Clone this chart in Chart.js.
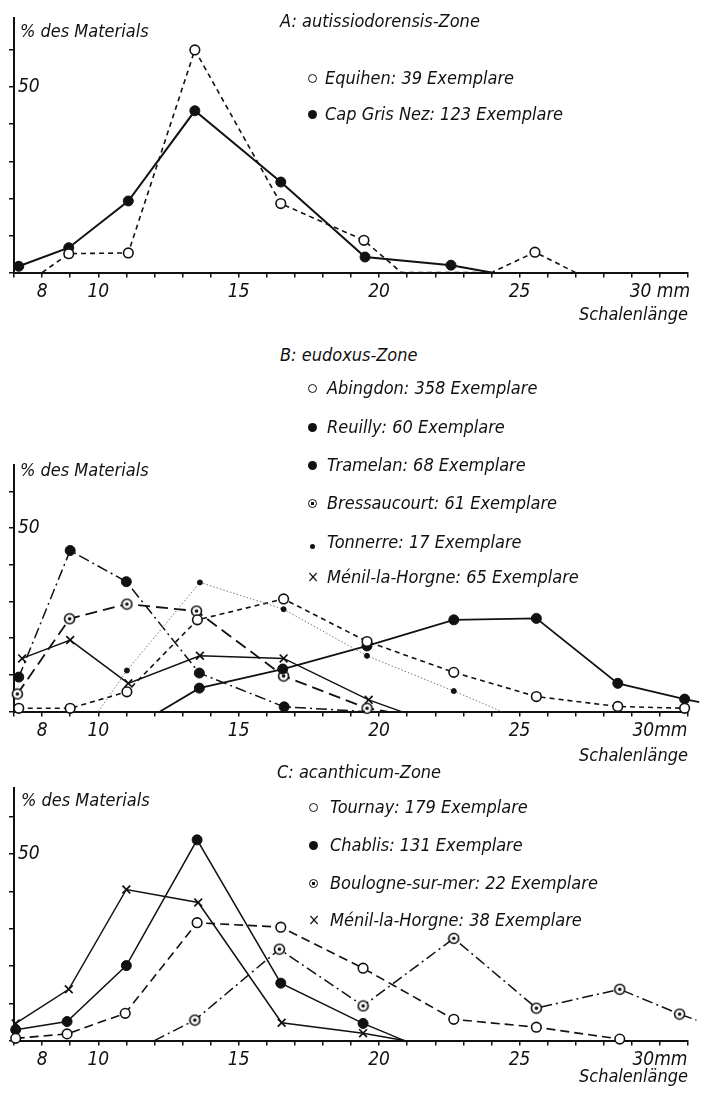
<!DOCTYPE html>
<html>
<head>
<meta charset="utf-8"/>
<script src="https://cdn.jsdelivr.net/npm/chart.js@4.4.1/dist/chart.umd.min.js"></script>
<style>
  body { margin:0; background:#fff; width:708px; height:1093px; overflow:hidden; position:relative;
         font-family:"DejaVu Sans Condensed","DejaVu Sans",sans-serif; font-style:italic; color:#111; }
  canvas { position:absolute; left:0; }
  .txt { position:absolute; font-size:18px; line-height:20px; white-space:nowrap; }
  .mk { position:absolute; box-sizing:border-box; border-radius:50%; }
  .open { width:9px; height:9px; border:1.5px solid #111; background:#fff; }
  .full { width:9px; height:9px; background:#111; }
  .ring { width:9px; height:9px; border:1.5px solid #111; background:radial-gradient(circle, #111 0 1.6px, #fff 2px); }
  .dot  { width:5px; height:5px; background:#111; }
  .cross { border-radius:0; font-size:16px; line-height:16px; font-style:normal; }
</style>
</head>
<body>
<canvas id="chartA" width="708" height="330" style="top:0px"></canvas>
<canvas id="chartB" width="708" height="330" style="top:440px"></canvas>
<canvas id="chartC" width="708" height="330" style="top:770px"></canvas>
<script>
// Schalenlänge (mm) und % des Materials

// A: autissiodorensis-Zone
var equihenX = [8.0, 8.95, 11.07, 13.44, 16.5, 19.46, 20.8, 24.0, 25.55, 27.0];
var equihenY = [0, 5.1, 5.3, 60.0, 18.6, 8.7, 0, 0, 5.5, 0];
var capX = [7.17, 8.95, 11.07, 13.44, 16.5, 19.5, 22.56, 24.0];
var capY = [1.7, 6.7, 19.3, 43.6, 24.4, 4.2, 2.0, 0];

// B: eudoxus-Zone
var abingdonX = [7.17, 9.0, 11.02, 13.53, 16.6, 19.57, 22.66, 25.6, 28.5, 30.88];
var abingdonY = [0.9, 0.9, 5.4, 25.0, 30.7, 19.1, 10.7, 4.1, 1.4, 0.9];
var reuillyX = [12.2, 13.6, 16.57, 19.57, 22.66, 25.6, 28.5, 30.88, 31.4];
var reuillyY = [0, 6.4, 11.6, 17.9, 25.0, 25.4, 7.7, 3.4, 2.6];
var tramelanX = [7.17, 9.0, 11.0, 13.6, 16.62, 19.5];
var tramelanY = [9.4, 43.9, 35.4, 10.5, 1.3, 0];
var bressX = [7.12, 8.98, 11.02, 13.5, 16.6, 19.57, 20.3];
var bressY = [4.8, 25.3, 29.3, 27.4, 9.7, 0.9, 0];
var tonnerreX = [10.0, 11.02, 13.62, 16.6, 19.57, 22.66, 24.37];
var tonnerreY = [0, 11.2, 35.2, 27.9, 15.2, 5.6, 0];
var menilBX = [7.29, 9.0, 11.07, 13.62, 16.6, 19.63, 20.8];
var menilBY = [14.5, 19.5, 7.7, 15.2, 14.5, 3.2, 0];

// C: acanthicum-Zone
var tournayX = [7.06, 8.89, 10.96, 13.52, 16.5, 19.43, 22.66, 25.6, 28.57];
var tournayY = [0.6, 1.8, 7.3, 31.6, 30.4, 19.4, 5.7, 3.6, 0.4];
var chablisX = [7.06, 8.89, 11.0, 13.52, 16.5, 19.43, 20.9];
var chablisY = [2.9, 5.1, 20.1, 53.8, 15.4, 4.6, 0];
var boulogneX = [12.0, 13.44, 16.45, 19.43, 22.66, 25.6, 28.57, 30.7, 31.3];
var boulogneY = [0, 5.5, 24.5, 9.3, 27.4, 8.7, 13.75, 7.1, 5.5];
var menilCX = [7.06, 8.95, 11.0, 13.56, 16.53, 19.43, 20.9];
var menilCY = [4.6, 13.75, 40.5, 37.0, 4.8, 2.0, 0];

var xLabels = [8, 10, 15, 20, 25, 30];
var yLabels = [50];

var FONT = '"DejaVu Sans Condensed", "DejaVu Sans", sans-serif';
var INK = '#111';

function ringDot() {
  var c = document.createElement('canvas');
  c.width = 13; c.height = 13;
  var g = c.getContext('2d');
  g.beginPath(); g.arc(6.5, 6.5, 5, 0, 2 * Math.PI);
  g.fillStyle = '#fff'; g.fill();
  g.lineWidth = 1.6; g.strokeStyle = INK; g.stroke();
  g.beginPath(); g.arc(6.5, 6.5, 1.8, 0, 2 * Math.PI);
  g.fillStyle = INK; g.fill();
  return c;
}
var RING = ringDot();

function dots(r) {
  return function (ctx) {
    if (!ctx.raw) return 0;
    return (ctx.raw.y > 0 && ctx.raw.x <= 31) ? r : 0;
  };
}

var OPEN = { pointStyle: 'circle', pointBackgroundColor: '#fff', pointBorderColor: INK, pointBorderWidth: 1.6, pointRadius: dots(4.8) };
var FULL = { pointStyle: 'circle', pointBackgroundColor: INK, pointBorderColor: INK, pointBorderWidth: 1, pointRadius: dots(5) };
var RINGP = { pointStyle: RING, pointRadius: dots(5) };
var SMALL = { pointStyle: 'circle', pointBackgroundColor: INK, pointBorderColor: INK, pointBorderWidth: 1, pointRadius: dots(2.5) };
var CROSS = { pointStyle: 'crossRot', pointBorderColor: INK, pointBorderWidth: 1.7, pointRadius: dots(5.5) };

function series(xs, ys, marker, line) {
  var ds = {
    data: xs.map(function (x, i) { return { x: x, y: ys[i] }; }),
    borderColor: INK, borderWidth: 1.8, tension: 0, clip: false, fill: false
  };
  return Object.assign(ds, marker, line);
}

function makeChart(id, yMax, pad, sets, lastLabel, titleTop) {
  return new Chart(document.getElementById(id), {
    type: 'line',
    data: { datasets: sets },
    options: {
      responsive: false, animation: false, devicePixelRatio: 1,
      layout: { padding: pad },
      plugins: { legend: { display: false }, tooltip: { enabled: false } },
      scales: {
        x: {
          type: 'linear', min: 7, max: 31,
          afterBuildTicks: function (s) {
            var t = [];
            for (var v = 7; v <= 31; v++) t.push({ value: v });
            s.ticks = t;
          },
          ticks: {
            autoSkip: false, maxRotation: 0, padding: 3, color: INK,
            font: { family: FONT, size: 19, style: 'italic' },
            callback: function (v) {
              if (v === 30) return lastLabel;
              return xLabels.indexOf(v) >= 0 ? String(v) : '';
            }
          },
          grid: { drawOnChartArea: false, drawTicks: true, tickLength: 5, color: INK, lineWidth: 1.5 },
          border: { color: INK, width: 2 },
          title: { display: true, text: 'Schalenlänge', align: 'end', color: INK,
                   font: { family: FONT, size: 18, style: 'italic' }, padding: { top: titleTop, bottom: 0 } }
        },
        y: {
          min: 0, max: yMax,
          afterBuildTicks: function (s) {
            s.ticks = [0, 10, 20, 30, 40, 50, 60].map(function (v) { return { value: v }; });
          },
          ticks: {
            mirror: true, padding: 4, color: INK,
            font: { family: FONT, size: 19, style: 'italic' },
            callback: function (v) { return yLabels.indexOf(v) >= 0 ? String(v) : ''; }
          },
          grid: { drawOnChartArea: false, drawTicks: true, tickLength: 5, color: INK, lineWidth: 1.5 },
          border: { color: INK, width: 2 }
        }
      }
    }
  });
}

var SHORT = { borderDash: [5, 4], borderWidth: 1.6 };
var LONG = { borderDash: [12, 6] };
var DASHDOT = { borderDash: [11, 4, 2, 4], borderWidth: 1.5 };
var DOTTED = { borderDash: [1.5, 2], borderWidth: 1, borderColor: '#777' };
var SOLID = {};

makeChart('chartA', 68.6, { left: 1, right: 20, top: 18, bottom: 4 }, [
  series(equihenX, equihenY, OPEN, SHORT),
  series(capX, capY, FULL, { borderWidth: 2 })
], '30 mm', -2);

makeChart('chartB', 67.2, { left: 1, right: 20, top: 25, bottom: 3 }, [
  series(tonnerreX, tonnerreY, SMALL, DOTTED),
  series(abingdonX, abingdonY, OPEN, SHORT),
  series(reuillyX, reuillyY, FULL, SOLID),
  series(tramelanX, tramelanY, FULL, DASHDOT),
  series(bressX, bressY, RINGP, LONG),
  series(menilBX, menilBY, CROSS, { borderWidth: 1.5 })
], '30mm', 0);

makeChart('chartC', 67.7, { left: 1, right: 20, top: 18, bottom: 12 }, [
  series(tournayX, tournayY, OPEN, { borderDash: [9, 5], borderWidth: 1.6 }),
  series(chablisX, chablisY, FULL, { borderWidth: 1.5 }),
  series(boulogneX, boulogneY, RINGP, DASHDOT),
  series(menilCX, menilCY, CROSS, { borderWidth: 1.5 })
], '30mm', -8);

// Beschriftung und Legenden
var titles = [
  ['A: autissiodorensis-Zone', 280, 21],
  ['B: eudoxus-Zone', 280, 355],
  ['C: acanthicum-Zone', 277, 772],
  ['% des Materials', 20, 31],
  ['% des Materials', 20, 470],
  ['% des Materials', 21, 800]
];
var legends = [
  ['open', 'Equihen: 39 Exemplare', 312, 325, 78],
  ['full', 'Cap Gris Nez: 123 Exemplare', 312, 325, 114],
  ['open', 'Abingdon: 358 Exemplare', 312, 327, 388],
  ['full', 'Reuilly: 60 Exemplare', 312, 327, 427],
  ['full', 'Tramelan: 68 Exemplare', 312, 327, 465],
  ['ring', 'Bressaucourt: 61 Exemplare', 312, 327, 503],
  ['dot', 'Tonnerre: 17 Exemplare', 312, 327, 542],
  ['cross', 'Ménil-la-Horgne: 65 Exemplare', 312, 327, 577],
  ['open', 'Tournay: 179 Exemplare', 313, 330, 807],
  ['full', 'Chablis: 131 Exemplare', 313, 330, 845],
  ['ring', 'Boulogne-sur-mer: 22 Exemplare', 313, 330, 883],
  ['cross', 'Ménil-la-Horgne: 38 Exemplare', 313, 330, 920]
];

function addText(str, x, y) {
  var d = document.createElement('div');
  d.className = 'txt';
  d.textContent = str;
  d.style.left = x + 'px';
  d.style.top = (y - 10) + 'px';
  document.body.appendChild(d);
}
titles.forEach(function (t) { addText(t[0], t[1], t[2]); });
legends.forEach(function (l) {
  var m = document.createElement('div');
  m.className = 'mk ' + l[0];
  if (l[0] === 'cross') {
    m.textContent = '×';
    m.style.left = (l[2] - 5) + 'px';
    m.style.top = (l[4] - 8) + 'px';
  } else {
    var s = l[0] === 'dot' ? 5 : 9;
    m.style.left = (l[2] - s / 2) + 'px';
    m.style.top = (l[4] - s / 2 + (l[0] === 'dot' ? 4 : 0)) + 'px';
  }
  document.body.appendChild(m);
  addText(l[1], l[3], l[4]);
});
</script>
</body>
</html>
